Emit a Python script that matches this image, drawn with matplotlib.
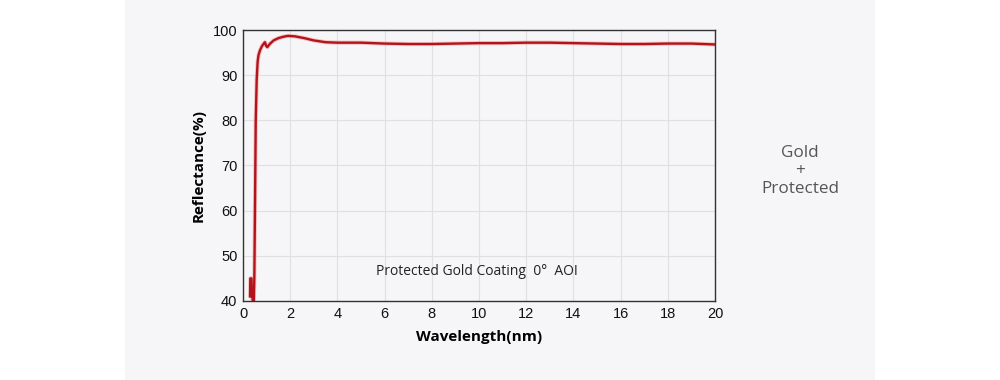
import matplotlib.pyplot as plt
from matplotlib.patches import Rectangle

# wavelength (x) and reflectance (%)
wavelength = [0.30, 0.31, 0.36, 0.38, 0.40, 0.42, 0.45, 0.48, 0.51, 0.54, 0.58,
              0.62, 0.66, 0.72, 0.80, 0.88, 0.93, 0.98, 1.03, 1.15, 1.3, 1.5,
              1.7, 1.9, 2.2, 2.6, 3.0, 3.5, 4.0, 5.0, 6.0, 7.0, 8.0, 9.0, 10.0,
              11.0, 12.0, 13.0, 14.0, 15.0, 16.0, 17.0, 18.0, 19.0, 20.0]
reflectance = [41.0, 45.0, 45.0, 41.0, 42.0, 38.0, 38.0, 45.0, 62.0, 80.0, 89.0,
               93.0, 94.5, 95.5, 96.4, 97.0, 97.3, 96.5, 96.2, 97.0, 97.7, 98.2,
               98.5, 98.7, 98.6, 98.2, 97.7, 97.3, 97.2, 97.2, 97.0, 96.9, 96.9, 97.0, 97.1,
               97.1, 97.2, 97.2, 97.1, 97.0, 96.9, 96.9, 97.0, 97.0, 96.8]

xticks = list(range(0, 21, 2))
yticks = list(range(40, 101, 10))

fig = plt.figure(figsize=(10, 3.8), dpi=100)
fig.patch.set_facecolor('white')
# light grey panel behind the chart
panel = Rectangle((0.125, 0), 0.75, 1, transform=fig.transFigure,
                  facecolor='#f6f6f8', edgecolor='none', zorder=-5)
fig.add_artist(panel)

ax = fig.add_axes([0.243, 0.208, 0.472, 0.713])
ax.set_zorder(2)
ax.set_facecolor('#f6f6f8')
ax.plot(wavelength, reflectance, color='#f08080', lw=3.0, alpha=0.45, solid_capstyle='round')
ax.plot(wavelength, reflectance, color='#b3141b', lw=1.7)

ax.set_xlim(0, 20)
ax.set_ylim(40, 100)
ax.set_xticks(xticks)
ax.set_yticks(yticks)
ax.grid(True, color='#e0e0e2', lw=0.8)
ax.set_axisbelow(True)
for s in ax.spines.values():
    s.set_color('#333333')
    s.set_linewidth(1.0)
ax.tick_params(length=0, labelsize=10.5, pad=4, colors='#111111')
for lab in ax.get_xticklabels() + ax.get_yticklabels():
    lab.set_family('Liberation Sans')

ax.set_xlabel('Wavelength(nm)', fontsize=11, fontweight='bold', family='Open Sans', labelpad=7)
ax.set_ylabel('Reflectance(%)', fontsize=11, fontweight='bold', family='Open Sans', labelpad=5)

ax.text(9.9, 46.5, 'Protected Gold Coating  0°  AOI', ha='center', va='center',
        fontsize=10, family='Open Sans', color='#222222')

fig.text(0.80, 0.55, 'Gold\n+\nProtected', ha='center', va='center', fontsize=12.3,
         family='Open Sans', color='#555555', linespacing=1.2)

fig.savefig('out.png', dpi=100, facecolor=fig.get_facecolor())
